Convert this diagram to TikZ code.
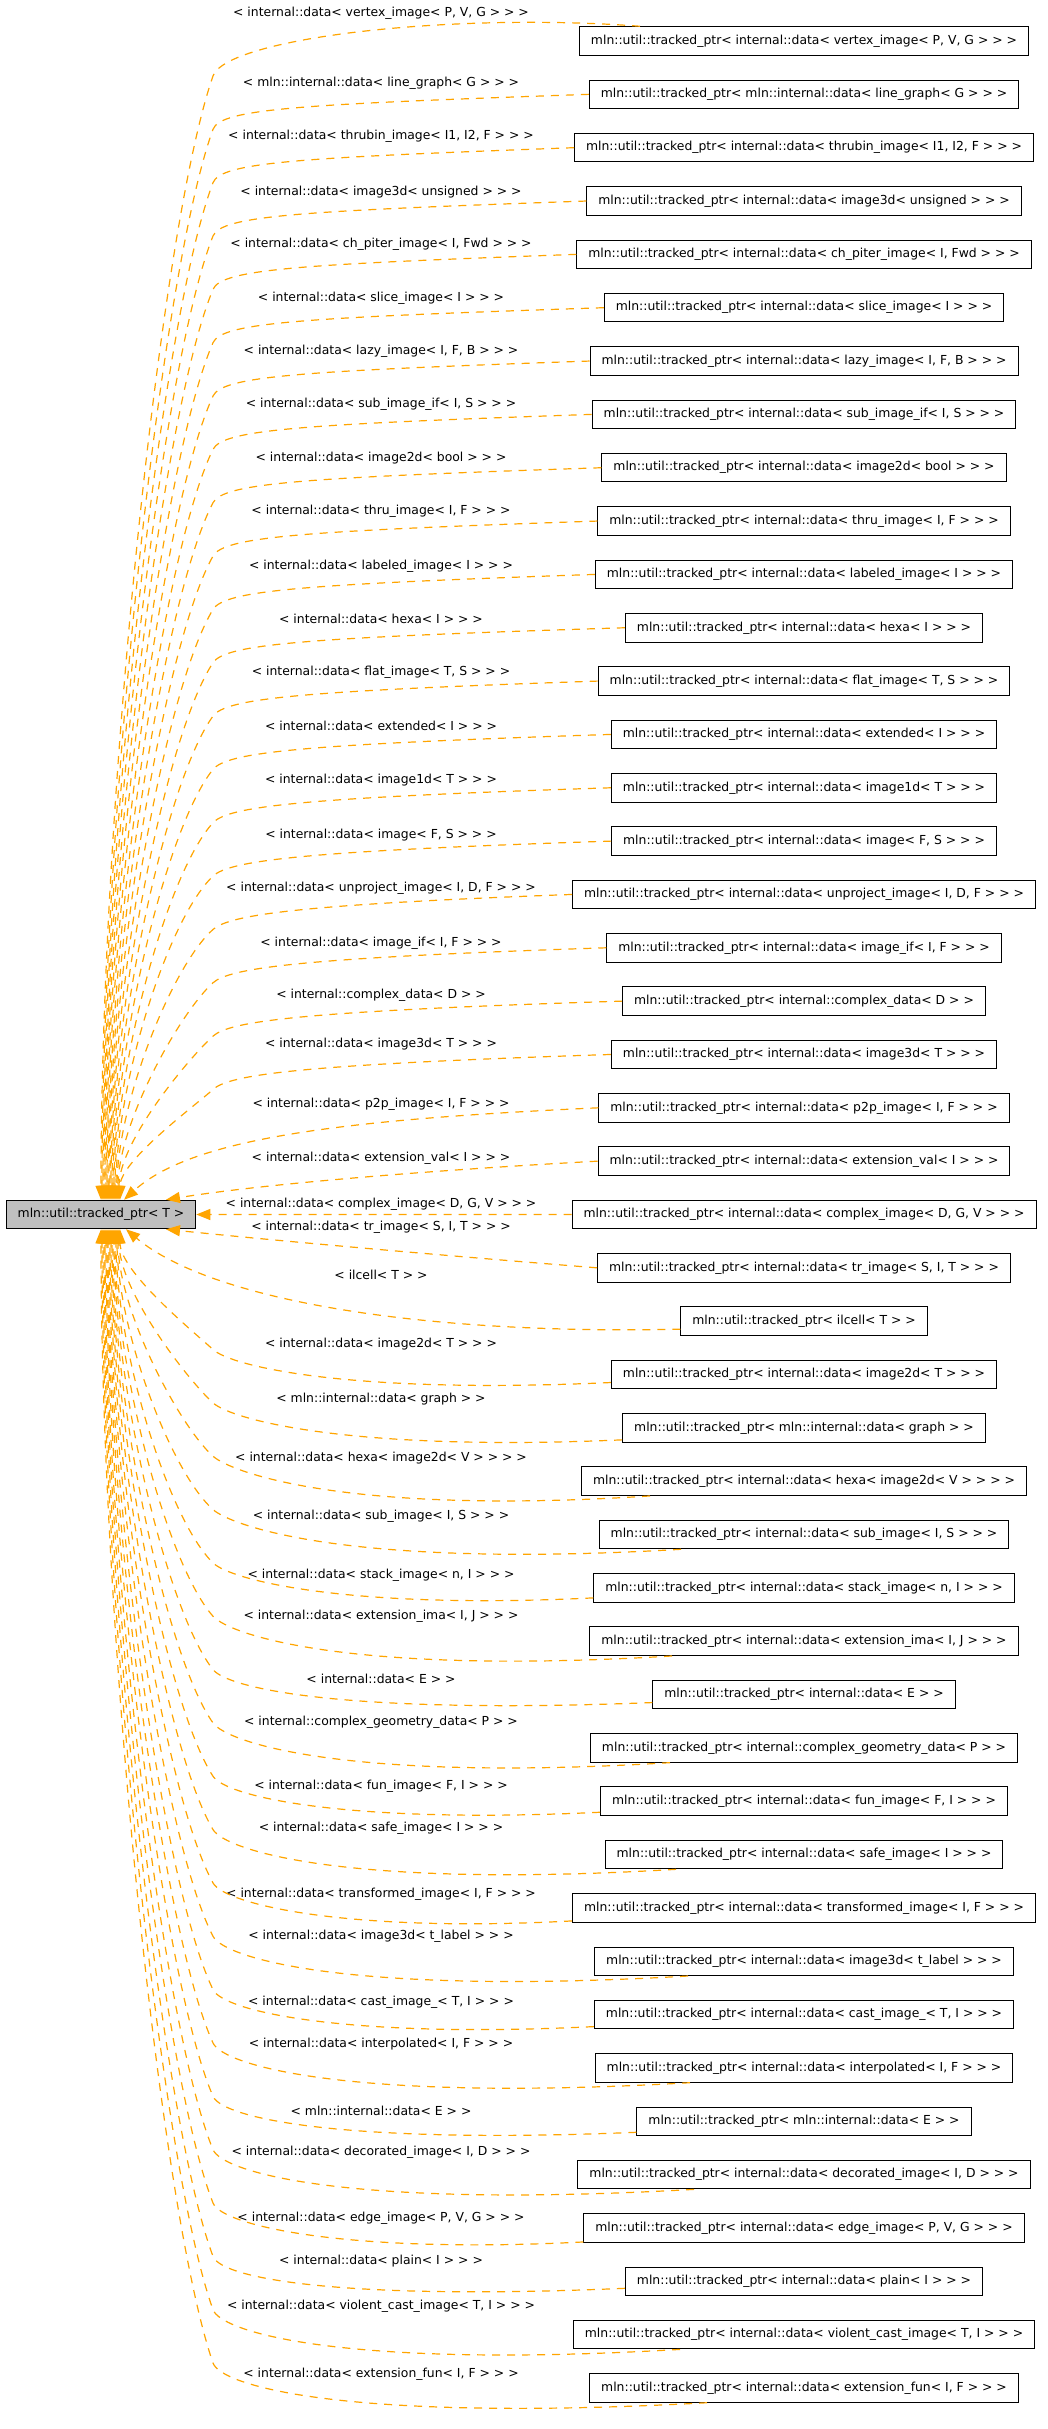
\documentclass[tikz,border=0pt]{standalone}
\usepackage{fontspec}
\setmainfont{DejaVu Sans}
\usetikzlibrary{arrows.meta,calc}
\definecolor{edgeorange}{HTML}{FFA500}
\definecolor{rootgray}{HTML}{BFBFBF}
\newcommand\dgfont{\fontsize{12.4pt}{14pt}\selectfont}
\begin{document}
\begin{tikzpicture}[x=1pt,y=-1pt,
  cls/.style={draw=black,line width=1pt,fill=white,minimum height=28.5pt,inner xsep=11.5pt,inner ysep=0pt,font=\dgfont},
  rootcls/.style={cls,fill=rootgray},
  lbl/.style={inner sep=0pt,font=\dgfont},
  inh/.style={draw=edgeorange,line width=1.2pt,dash pattern=on 8pt off 7pt,-{Triangle[length=14pt,width=11pt]}}]
\fill[white] (0,0) rectangle (1048,2429);
\path[use as bounding box] (0,0) rectangle (1048,2429);
\node[rootcls] (root) at (101,1214.5) {mln::util::tracked\_ptr< T >};
\foreach \i/\lab/\ly in {
 1/{< internal::data< vertex\_image< P, V, G > > >}/13,
 2/{< mln::internal::data< line\_graph< G > > >}/83.3,
 3/{< internal::data< thrubin\_image< I1, I2, F > > >}/136.7,
 4/{< internal::data< image3d< unsigned > > >}/191.7,
 5/{< internal::data< ch\_piter\_image< I, Fwd > > >}/244.3,
 6/{< internal::data< slice\_image< I > > >}/298.3,
 7/{< internal::data< lazy\_image< I, F, B > > >}/351,
 8/{< internal::data< sub\_image\_if< I, S > > >}/404.3,
 9/{< internal::data< image2d< bool > > >}/458.3,
 10/{< internal::data< thru\_image< I, F > > >}/511.7,
 11/{< internal::data< labeled\_image< I > > >}/566,
 12/{< internal::data< hexa< I > > >}/619.3,
 13/{< internal::data< flat\_image< T, S > > >}/672.3,
 14/{< internal::data< extended< I > > >}/726,
 15/{< internal::data< image1d< T > > >}/780.3,
 16/{< internal::data< image< F, S > > >}/835.3,
 17/{< internal::data< unproject\_image< I, D, F > > >}/888.7,
 18/{< internal::data< image\_if< I, F > > >}/943.7,
 19/{< internal::complex\_data< D > >}/995.3,
 20/{< internal::data< image3d< T > > >}/1044.3,
 21/{< internal::data< p2p\_image< I, F > > >}/1104.5,
 22/{< internal::data< extension\_val< I > > >}/1158.7,
 23/{< internal::data< complex\_image< D, G, V > > >}/1204.3,
 24/{< internal::data< tr\_image< S, I, T > > >}/1227.7,
 25/{< ilcell< T > >}/1275,
 26/{< internal::data< image2d< T > > >}/1344.3,
 27/{< mln::internal::data< graph > >}/1399.3,
 28/{< internal::data< hexa< image2d< V > > > >}/1458.3,
 29/{< internal::data< sub\_image< I, S > > >}/1516.7,
 30/{< internal::data< stack\_image< n, I > > >}/1575.7,
 31/{< internal::data< extension\_ima< I, J > > >}/1616.7,
 32/{< internal::data< E > >}/1679.3,
 33/{< internal::complex\_geometry\_data< P > >}/1722.7,
 34/{< internal::data< fun\_image< F, I > > >}/1786.7,
 35/{< internal::data< safe\_image< I > > >}/1828.3,
 36/{< internal::data< transformed\_image< I, F > > >}/1894.3,
 37/{< internal::data< image3d< t\_label > > >}/1936.7,
 38/{< internal::data< cast\_image\_< T, I > > >}/2002.3,
 39/{< internal::data< interpolated< I, F > > >}/2044.3,
 40/{< mln::internal::data< E > >}/2110.7,
 41/{< internal::data< decorated\_image< I, D > > >}/2152.3,
 42/{< internal::data< edge\_image< P, V, G > > >}/2218.3,
 43/{< internal::data< plain< I > > >}/2260.7,
 44/{< internal::data< violent\_cast\_image< T, I > > >}/2306.7,
 45/{< internal::data< extension\_fun< I, F > > >}/2374.7}{
  \pgfmathsetmacro\yy{41+(\i-1)*53.34}
  \node[cls] (b\i) at (804,\yy) {mln::util::tracked\_ptr\lab};
  \node[lbl] (l\i) at (381,\ly) {\lab};
}
% upper fan
\draw[inh] ($(b1.north)+(-164,0)$) .. controls (450,12) and (226.2,38.2) .. (213,76) .. controls (160.4,226.6) and (101,798.7) .. (root.north);
\foreach \i in {2,...,20}{
  \pgfmathsetmacro\yy{41+(\i-1)*53.34}
  \pgfmathsetmacro\ky{\yy+35}
  \pgfmathsetmacro\xe{\i-1}
  \pgfmathsetmacro\DD{1200-\ky}
  \pgfmathsetmacro\ff{min(1,\DD/300)}
  \pgfmathsetmacro\pax{213-0.47*(112-\xe)*\ff}
  \pgfmathsetmacro\pay{\ky+0.134*\DD}
  \pgfmathsetmacro\pbx{101+\xe}
  \pgfmathsetmacro\pby{1200-0.357*\DD}
  \pgfmathsetmacro\ddx{\pax-213}
  \pgfmathsetmacro\ddy{\pay-\ky}
  \pgfmathsetmacro\ddl{veclen(\ddx,\ddy)}
  \pgfmathsetmacro\qx{213-22*\ddx/\ddl}
  \pgfmathsetmacro\qy{\ky-22*\ddy/\ddl}
  \pgfmathsetmacro\qay{\yy+10}
  \draw[inh] (b\i.west) .. controls (300,\qay) and (\qx,\qy) .. (213,\ky) .. controls (\pax,\pay) and (\pbx,\pby) .. ($(root.north)+(\xe,0)$);
}
\draw[inh] (b21.west) .. controls (330,1120) and (190,1140) .. ($(root.north)+(23,0)$);
\draw[inh] (b22.west) .. controls (400,1172) and (250,1186) .. ($(root.north)+(65,0)$);
\draw[inh] (b23.west) -- (root.east);
\draw[inh] (b24.west) .. controls (400,1252) and (250,1238) .. ($(root.south)+(65,0)$);
\draw[inh] ($(b25.west)+(0,8)$) .. controls (420,1335) and (210,1300) .. ($(root.south)+(25,0)$);
% lower fan
\foreach \i/\typ/\sv in {26/0/8,27/0/12,28/1/650,29/1/681,30/0/10,31/1/672,32/0/8,33/1/670,34/0/11,35/1/676,36/0/13,37/1/688,38/0/12,39/1/690,40/0/11,41/1/694,42/0/14,43/0/7,44/1/680,45/1/707}{
  \pgfmathsetmacro\yy{41+(\i-1)*53.34}
  \ifnum\typ=0
    \coordinate (s\i) at ($(b\i.west)+(0,\sv)$);
    \pgfmathsetmacro\qay{\yy+\sv+12}
  \else
    \coordinate (s\i) at ($(b\i.south)+(\sv-804,0)$);
    \pgfmathsetmacro\qay{\yy+14.25+20}
  \fi
  \pgfmathsetmacro\ky{\yy-25}
  \pgfmathsetmacro\xe{45-\i}
  \pgfmathsetmacro\DD{\ky-1229}
  \pgfmathsetmacro\ff{min(1,\DD/300)}
  \pgfmathsetmacro\pax{213-0.47*(112-\xe)*\ff}
  \pgfmathsetmacro\pay{\ky-0.134*\DD}
  \pgfmathsetmacro\pbx{101+\xe}
  \pgfmathsetmacro\pby{1229+0.357*\DD}
  \pgfmathsetmacro\ddx{\pax-213}
  \pgfmathsetmacro\ddy{\pay-\ky}
  \pgfmathsetmacro\ddl{veclen(\ddx,\ddy)}
  \pgfmathsetmacro\qx{213-25*\ddx/\ddl}
  \pgfmathsetmacro\qy{\ky-25*\ddy/\ddl}
  \draw[inh] (s\i) .. controls (350,\qay) and (\qx,\qy) .. (213,\ky) .. controls (\pax,\pay) and (\pbx,\pby) .. ($(root.south)+(\xe,0)$);
}
\end{tikzpicture}
\end{document}
